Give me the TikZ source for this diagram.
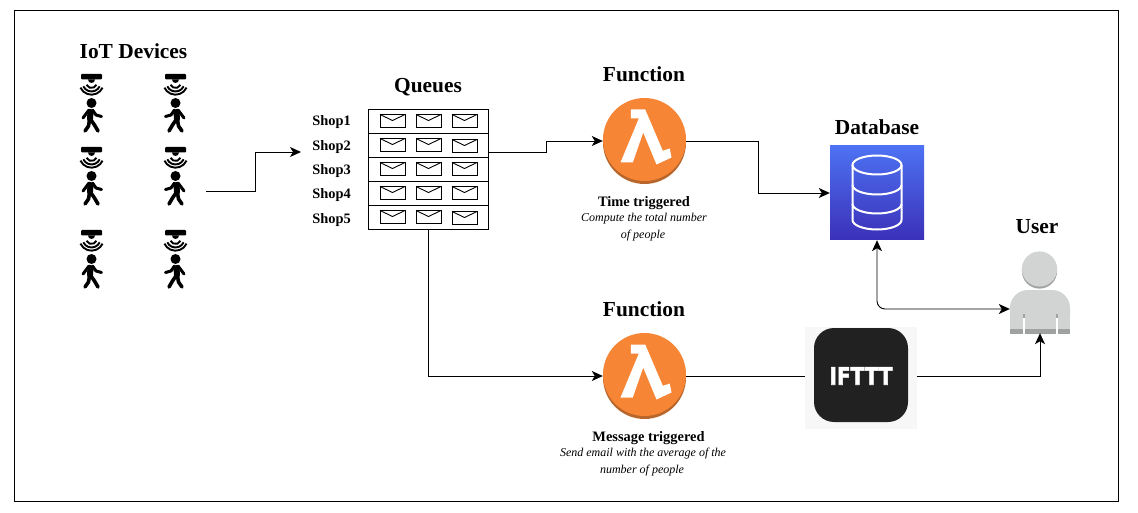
\documentclass[tikz,border=0pt]{standalone}
\usepackage{fontspec}
\setmainfont{Liberation Serif}
\newfontfamily\iftttfont[BoldFeatures={FakeBold=2.5}]{DejaVu Sans}
\usetikzlibrary{arrows.meta,calc}
\definecolor{lamorange}{HTML}{F68536}
\definecolor{lamdark}{HTML}{B8662B}
\definecolor{dbtop}{HTML}{4D72F3}
\definecolor{dbbot}{HTML}{3B30B8}
\definecolor{usergray}{HTML}{D2D3D3}
\definecolor{userdark}{HTML}{A0A1A1}
\tikzset{
  x=1pt,y=-1pt,
  tip/.tip={Stealth[length=11pt,width=10pt,inset=3pt]},
  conn/.style={draw=black,line width=0.9pt,-tip},
  plainconn/.style={draw=black,line width=0.9pt},
  title/.style={font=\fontsize{21.4}{24}\selectfont\bfseries,inner sep=0pt,anchor=center},
  shop/.style={font=\fontsize{14.4}{15}\selectfont\bfseries,inner sep=0pt,anchor=center},
  subhead/.style={font=\fontsize{14.4}{15}\selectfont\bfseries,inner sep=0pt,anchor=center},
  note/.style={font=\fontsize{12}{13}\selectfont\itshape,inner sep=0pt,anchor=center},
  rowbox/.style={draw=black,line width=0.9pt,minimum width=120pt,minimum height=24pt,inner sep=0pt},
  envelope/.pic={
    \draw[black,line width=0.9pt,fill=white] (-12.5,-6.5) rectangle (12.5,6.5);
    \draw[black,line width=0.9pt] (-12.5,-6.5) -- (0,-0.5) -- (12.5,-6.5);
  },
  lambdasign/.pic={
    \fill[lamdark] (0,3) circle[radius=41.5pt];
    \fill[lamorange] (0,0) circle[radius=41.5pt];
    \fill[white] (-13.7,-21) -- (-13.7,-30) -- (0.7,-30) -- (18.3,11.3) -- (25.3,9) -- (27,18) -- (12,25)
      -- (-1.3,-7) -- (-11.7,23) -- (-24,23) -- (-5.7,-21) -- cycle;
  },
  sensor/.pic={
    \fill[black,rounded corners=1pt] (-10.5,0) rectangle (10.5,5.5);
    \fill[black] (-3.5,5.5) arc[start angle=180,end angle=360,radius=3.5pt] -- cycle;
    \foreach \r in {5.5,9,12.2}{
      \draw[black,line width=1.9pt] (0,8.5) ++(205:\r pt) arc[start angle=205,end angle=335,radius=\r pt];
    }
    \fill[black] (0,29) circle[radius=5pt];
    \draw[black,line width=6pt,line cap=round] (-1,38) -- (-1.5,45);
    \draw[black,line width=3pt,line cap=round,line join=round] (-2.5,36) -- (-8.5,44);
    \draw[black,line width=3pt,line cap=round,line join=round] (1,36) -- (4.5,41) -- (10,42.5);
    \draw[black,line width=3.6pt,line cap=round,line join=round] (-2,46) -- (-3,52) -- (-6.5,57);
    \draw[black,line width=3.6pt,line cap=round,line join=round] (-0.5,46) -- (3,51) -- (6.5,57);
  },
}
\begin{document}
\begin{tikzpicture}
\useasboundingbox (0,0) rectangle (1138,513);
\fill[white] (0,0) rectangle (1138,513);
\draw[black,line width=0.9pt] (14,10) rectangle (1118,501);

% IoT devices
\node[title] (tiot) at (133.5,51) {IoT Devices};
\foreach \y in {74,147,230}{
  \pic at (91.5,\y) {sensor};
  \pic[xscale=-1] at (175.5,\y) {sensor};
}

% Queues
\node[title] (tq) at (428,87) {Queues};
\node[rowbox] (r1) at (428,121) {};
\node[rowbox] (r2) at (428,145) {};
\node[rowbox] (r3) at (428,169) {};
\node[rowbox] (r4) at (428,193) {};
\node[rowbox] (r5) at (428,217) {};
\foreach \y/\a in {121/0,145/1,169/0,193/0,217/1}{
  \pic at (392.5,\y) {envelope};
  \pic at (428.5,\y) {envelope};
  \pic at (464.5,\y+\a) {envelope};
}
\node[shop] (s1) at (331.5,122) {Shop1};
\node[shop] (s2) at (331.5,147.5) {Shop2};
\node[shop] (s3) at (331.5,171.5) {Shop3};
\node[shop] (s4) at (331.5,195.5) {Shop4};
\node[shop] (s5) at (331.5,220) {Shop5};

% Function 1
\node[title] (tf1) at (644,74) {Function};
\pic at (644.5,139.5) {lambdasign};
\node[circle,minimum size=83pt,inner sep=0pt] (lam1) at (644.5,141) {};
\node[subhead] (h1) at (644,203) {Time triggered};
\node[note] (n1a) at (644,219) {Compute the total number};
\node[note] (n1b) at (643,236) {of people};

% Function 2
\node[title] (tf2) at (644,309) {Function};
\pic at (644.5,374.5) {lambdasign};
\node[circle,minimum size=83pt,inner sep=0pt] (lam2) at (644.5,376) {};
\node[subhead] (h2) at (648.5,438) {Message triggered};
\node[note] (n2a) at (643,454) {Send email with the average of the};
\node[note] (n2b) at (642,471) {number of people};

% Database
\node[title] (tdb) at (877,127) {Database};
\node[minimum size=94pt,inner sep=0pt,top color=dbtop,bottom color=dbbot] (db) at (877,193) {};
\begin{scope}[white,line width=2pt]
  \draw (877,165) ellipse[x radius=24.5pt,y radius=9.5pt];
  \draw (852.5,165) -- (852.5,220) arc[start angle=180,end angle=360,x radius=24.5pt,y radius=9.5pt] -- (901.5,165);
  \draw (852.5,185) arc[start angle=180,end angle=360,x radius=24.5pt,y radius=9.5pt];
  \draw (852.5,204) arc[start angle=180,end angle=360,x radius=24.5pt,y radius=9.5pt];
\end{scope}

% User
\node[title] (tu) at (1037,227) {User};
\fill[userdark] (1039.5,271) circle[radius=17.6pt];
\fill[usergray] (1039.5,269) circle[radius=17.6pt];
\fill[usergray,rounded corners=18pt] (1010,334) -- (1010,290) -- (1070,290) -- (1070,334) -- cycle;
\fill[usergray] (1010,318) rectangle (1070,329);
\fill[userdark] (1010,329) rectangle (1070,333.5);
\fill[userdark] (1022.5,314) rectangle (1024.5,329);
\fill[userdark] (1055.5,314) rectangle (1057.5,329);
\fill[white] (1023,318) rectangle (1024.5,333.5);
\fill[white] (1056,318) rectangle (1057.5,333.5);
\node[minimum width=60pt,minimum height=48pt,inner sep=0pt] (user) at (1040,309) {};

% IFTTT
\node[fill=black!3,minimum width=112pt,minimum height=102pt,inner sep=0pt] (ifbg) at (861,378) {};
\node[fill=black!87,rounded corners=20pt,minimum size=94pt,inner sep=0pt] (ifbox) at (861,375) {};
\node[inner sep=0pt,text=white] (iftxt) at (861,376) {\scalebox{1}[1.2]{\iftttfont\fontsize{20}{22}\selectfont\bfseries IFTTT}};

% Connectors
\coordinate (iotout) at (206,191);
\coordinate (qin) at (301,152);
\coordinate (qout) at (488,152);
\draw[conn] (iotout) -- (255,191) -- (255,152) -- (qin);
\draw[conn] (qout) -- (546,152) -- (546,141) -- (lam1.west);
\draw[conn] (lam1.east) -- (758,141) -- (758,193) -- (db.west);
\draw[conn] (r5.south) -- (428,376) -- (lam2.west);
\draw[plainconn] (lam2.east) -- (ifbg.west |- lam2.east);
\draw[conn] (ifbg.east |- lam2.east) -- (1040,376) -- (user.south);
\draw[draw=black,line width=0.9pt,tip-tip,rounded corners=8pt] (db.south) |- (user.west);
\end{tikzpicture}
\end{document}
